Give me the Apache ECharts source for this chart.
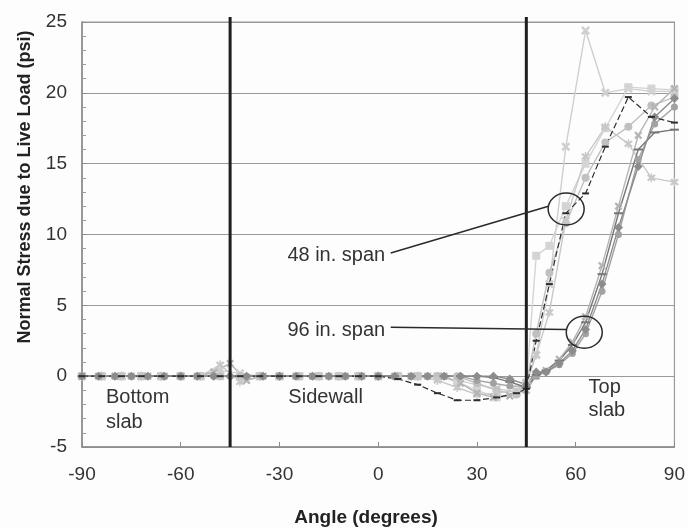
<!DOCTYPE html>
<html>
<head>
<meta charset="utf-8">
<script src="https://cdn.jsdelivr.net/npm/echarts@6/dist/echarts.min.js"></script>
<style>
html,body{margin:0;padding:0;background:#fdfdfd;}
#c{width:688px;height:529px;}
</style>
</head>
<body>
<div id="c"></div>
<script>
// ---------- DATA ----------
// angles (degrees) for the 96 in. span runs
const angles96 = [-90,-85,-80,-75,-70,-65,-60,-55,-50,-45,-40,-35,-30,-25,-20,-15,-10,-5,0,5,10,15,20,25,30,35,40,
                  45,48,51,55,59,63,68,73,79,84,90];
// angles (degrees) for the 48 in. span runs
const angles48 = [-90,-84,-78,-72,-66,-60,-54,-48,-42,-36,-30,-24,-18,-12,-6,0,6,12,18,24,30,36,42,
                  45,48,52,57,63,69,76,83,90];

// 96 in. span stresses (psi)
const s96a = [0,0,0,0,0,0,0,0,0,0,0,0,0,0,0,0,0,0,0,0,0,0,0,0,0,0,-0.2,
              -0.6,0.3,0.3,0.9,1.8,3.3,6.5,10.5,14.8,18.3,19.6];
const s96b = [0,0,0,0,0,0,0,0,0,0,0,0,0,0,0,0,0,0,0,0,0,0,0,0,0,-0.1,-0.4,
              -0.8,0.1,0.4,1.1,2.2,3.8,7.2,11.5,16.0,17.2,17.4];
const s96c = [0,0,0,0,0,0,0,0,0,0,0,0,0,0,0,0,0,0,0,0,0,0,0,0,-0.3,-0.5,-0.7,
              -0.7,0.0,0.3,0.8,1.6,3.0,6.0,10.0,15.3,17.8,19.0];
const s96d = [0,0,0,0,0,0,0,0,0.3,0.9,-0.3,0,0,0,0,0,0,0,0,0,0,0,0,-0.5,-1.2,-1.5,-1.4,
              -1.0,0.0,0.4,1.2,2.4,4.2,7.8,12.0,17.0,19.0,20.3];

// 48 in. span stresses (psi)
const s48a = [0,0,0,0,0,0,0,0.4,0.2,0,0,0,0,0,0,0,0,0,-0.1,-0.3,-0.6,-0.9,-1.1,
              -0.5,1.5,6.5,16.2,24.4,20.0,20.3,20.1,20.1];
const s48b = [0,0,0,0,0,0,0,0,0,0,0,0,0,0,0,0,0,0,0,-0.4,-1.0,-1.5,-1.2,
              -0.6,8.5,9.2,12.0,15.0,17.5,20.4,20.3,20.2];
const s48c = [0,0,0,0,0,0,0,0,0,0,0,0,0,0,0,0,0,0,0,0,-0.5,-1.0,-1.3,
              -0.5,3.0,7.3,10.8,14.0,16.5,17.6,19.1,19.7];
const s48d = [0,0,0,0,0,0,0,0,0,0,0,0,0,0,0,0,-0.2,-0.6,-1.2,-1.7,-1.7,-1.5,-1.2,
              -0.9,2.5,6.5,11.5,12.9,16.2,19.7,18.3,17.9];
const s48e = [0,0,0,0,0,0,0,0.8,-0.4,0,0,0,0,0,0,0,0,0,-0.3,-0.8,-1.3,-1.2,-1.0,
              -0.4,1.5,4.5,11.0,15.5,17.6,16.4,14.0,13.7];

// region dividers (degrees) and their vertical extent
const dividerAngles = [-45, 45];
const dividerRange = [-5, 25.35];

// axis ticks
const xTicks = [-90,-60,-30,0,30,60,90];
const yTicks = [-5,0,5,10,15,20,25];

// annotations in data units
const regionLabels = [
  {text:'Bottom', at:[-82.7,-1.5]}, {text:'slab', at:[-82.7,-3.25]},
  {text:'Sidewall', at:[-27.3,-1.5]},
  {text:'Top', at:[63.9,-0.8]}, {text:'slab', at:[63.9,-2.45]}
];
const spanLabels = [
  {text:'48 in. span', at:[-27.6,8.5], from:[3.8,8.7], to:[51.7,12.0], circle:[57.1,11.8]},
  {text:'96 in. span', at:[-27.6,3.2], from:[3.8,3.45], to:[57.1,3.3], circle:[62.6,3.1]}
];

// ---------- STYLE ----------
const FONT = 'Liberation Sans, Arial, Helvetica, sans-serif';
const XMARK = 'path://M2,0 L5,3 L8,0 L10,2 L7,5 L10,8 L8,10 L5,7 L2,10 L0,8 L3,5 L0,2 Z';
const ASTER = 'path://M2,0 L5,3 L8,0 L10,2 L7,5 L10,8 L8,10 L5,7 L2,10 L0,8 L3,5 L0,2 Z M4.2,-1.5 L5.8,-1.5 L5.8,11.5 L4.2,11.5 Z';

function mk(name, xs, ys, color, symbol, size, extra) {
  return Object.assign({
    name: name, type: 'line',
    data: xs.map((x, i) => [x, ys[i]]),
    symbol: symbol, symbolSize: size, showSymbol: true,
    lineStyle: {color: color, width: 1.4},
    itemStyle: {color: color},
    emphasis: {disabled: true},
    animation: false
  }, extra || {});
}

const series = [
  mk('48 in. A', angles48, s48a, '#cfcfcf', XMARK, 9),
  mk('48 in. B', angles48, s48b, '#d4d4d4', 'rect', 8),
  mk('48 in. C', angles48, s48c, '#c0c0c0', 'circle', 8),
  mk('48 in. E', angles48, s48e, '#c8c8c8', ASTER, 9),
  mk('96 in. D', angles96, s96d, '#b4b4b4', XMARK, 8),
  mk('96 in. C', angles96, s96c, '#a2a2a2', 'circle', 7),
  mk('96 in. B', angles96, s96b, '#777777', 'rect', [9, 2]),
  mk('96 in. A', angles96, s96a, '#8c8c8c', 'diamond', 9),
  mk('48 in. D', angles48, s48d, '#2e2e2e', 'rect', [7, 2], {lineStyle:{color:'#2e2e2e', width:1.2, type:[6,3]}}),
];
dividerAngles.forEach(a => {
  series.push({
    type: 'line', data: dividerRange.map(v => [a, v]), symbol: 'none', clip: false,
    lineStyle: {color: '#1e1e1e', width: 3}, z: 5, animation: false, silent: true
  });
});

const chart = echarts.init(document.getElementById('c'), null, {renderer: 'canvas'});
chart.setOption({
  backgroundColor: '#fdfdfd',
  animation: false,
  grid: {left: 82, right: 9, top: 22, bottom: 82, show: true, borderColor: '#9a9a9a', borderWidth: 1.2, backgroundColor: 'transparent'},
  xAxis: {
    type: 'value', min: xTicks[0], max: xTicks[xTicks.length - 1], interval: 30,
    axisLine: {onZero: false, lineStyle: {color: '#8a8a8a', width: 1.5}},
    axisTick: {inside: true, length: 5, lineStyle: {color: '#8a8a8a'}},
    axisLabel: {fontSize: 19, color: '#333', fontFamily: FONT, margin: 18},
    splitLine: {show: false}
  },
  yAxis: {
    type: 'value', min: yTicks[0], max: yTicks[yTicks.length - 1], interval: 5,
    axisLine: {show: true, onZero: false, lineStyle: {color: '#8a8a8a', width: 1.5}},
    axisTick: {show: true, inside: true, length: 5, lineStyle: {color: '#8a8a8a'}},
    minorTick: {show: true, splitNumber: 5, length: 4, lineStyle: {color: '#9a9a9a'}},
    axisLabel: {fontSize: 19, color: '#333', fontFamily: FONT, margin: 15},
    splitLine: {show: true, lineStyle: {color: '#9a9a9a', width: 1.2}}
  },
  series: series
});

// ---------- annotations placed from data coordinates ----------
const P = p => chart.convertToPixel({gridIndex: 0}, p);
const g = [];
regionLabels.forEach(l => {
  const p = P(l.at);
  g.push({type: 'text', x: p[0], y: p[1], z: 100,
    style: {text: l.text, fontSize: 20, fontFamily: FONT, fill: '#333', textVerticalAlign: 'middle', textAlign: 'left'}});
});
spanLabels.forEach(l => {
  const p = P(l.at), a = P(l.from), b = P(l.to), c = P(l.circle);
  g.push({type: 'text', x: p[0], y: p[1], z: 100,
    style: {text: l.text, fontSize: 20, fontFamily: FONT, fill: '#333', textVerticalAlign: 'middle', textAlign: 'left'}});
  g.push({type: 'line', z: 100, shape: {x1: a[0], y1: a[1], x2: b[0], y2: b[1]}, style: {stroke: '#2a2a2a', lineWidth: 1.5}});
  g.push({type: 'ellipse', z: 100, shape: {cx: c[0], cy: c[1], rx: 18, ry: 16}, style: {fill: 'none', stroke: '#2a2a2a', lineWidth: 1.5}});
});
// axis titles
g.push({type: 'text', x: 366, y: 518, z: 100,
  style: {text: 'Angle (degrees)', fontSize: 19, fontWeight: 'bold', fontFamily: FONT, fill: '#222', textAlign: 'center', textVerticalAlign: 'middle'}});
g.push({type: 'text', x: 25, y: 187, rotation: Math.PI / 2, z: 100,
  style: {text: 'Normal Stress due to Live Load (psi)', fontSize: 18, fontWeight: 'bold', fontFamily: FONT, fill: '#222', textAlign: 'center', textVerticalAlign: 'middle'}});
chart.setOption({graphic: g});
</script>
</body>
</html>
